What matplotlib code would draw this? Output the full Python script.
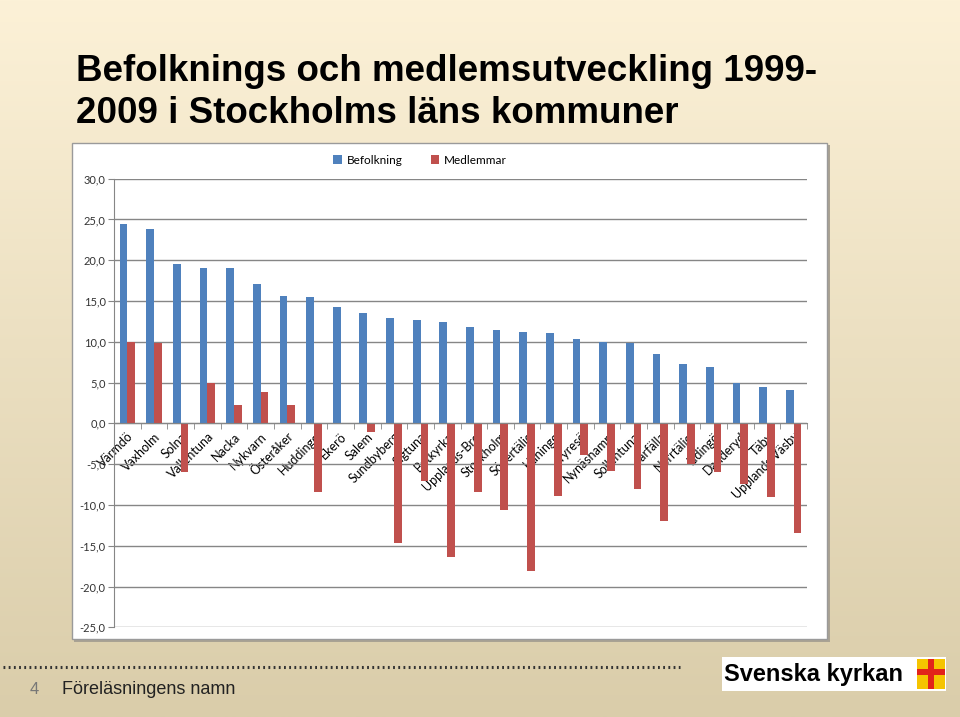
import numpy as np
import matplotlib
matplotlib.use("Agg")
import matplotlib.pyplot as plt
from matplotlib.patches import Rectangle
from matplotlib.ticker import FixedLocator

# --- Data ---
kommuner = ["Värmdö", "Vaxholm", "Solna", "Vallentuna", "Nacka", "Nykvarn",
            "Österåker", "Huddinge", "Ekerö", "Salem", "Sundbyberg", "Sigtuna",
            "Botkyrka", "Upplands-Bro", "Stockholm", "Södertälje", "Haninge",
            "Tyresö", "Nynäshamn", "Sollentuna", "Järfälla", "Norrtälje",
            "Lidingö", "Danderyd", "Täby", "Upplands Väsby"]
befolkning = [24.5, 23.8, 19.5, 19.1, 19.0, 17.1, 15.6, 15.5, 14.3, 13.5,
              12.9, 12.7, 12.4, 11.8, 11.5, 11.2, 11.1, 10.4, 10.0, 9.9,
              8.5, 7.3, 6.9, 5.0, 4.5, 4.1]
medlemmar = [10.0, 9.9, -6.0, 4.9, 2.3, 3.8, 2.2, -8.4, 0.1, -1.0,
             -14.7, -7.1, -16.4, -8.4, -10.6, -18.1, -8.9, -3.9, -5.8, -8.0,
             -12.0, -5.0, -6.0, -7.4, -9.0, -13.4]
series_names = ["Befolkning", "Medlemmar"]
y_ticks = [-25, -20, -15, -10, -5, 0, 5, 10, 15, 20, 25, 30]

blue = "#4F81BD"
red = "#C0504D"
grid_grey = "#868686"

W, H = 960, 717
fig = plt.figure(figsize=(W / 100, H / 100), dpi=100)

# --- slide background (vertical cream -> tan gradient) ---
bg = fig.add_axes([0, 0, 1, 1])
top_c = np.array([252, 241, 215]) / 255
bot_c = np.array([218, 205, 170]) / 255
t = np.linspace(0, 1, 256)[:, None]
grad = top_c[None, :] * (1 - t) + bot_c[None, :] * t
bg.imshow(grad[:, None, :], aspect="auto", extent=[0, W, H, 0])
bg.set_xlim(0, W)
bg.set_ylim(H, 0)
bg.axis("off")

# chart box with a little shadow
bg.add_patch(Rectangle((74, 145), 756, 497, facecolor="#A9A293", edgecolor="none"))
bg.add_patch(Rectangle((72, 143), 755, 496, facecolor="white", edgecolor="#9A9A9A", lw=1))

# title
bg.text(76, 81, "Befolknings och medlemsutveckling 1999-", fontsize=26.5,
        fontweight="bold", family="Liberation Sans", va="baseline", ha="left")
bg.text(76, 123, "2009 i Stockholms läns kommuner", fontsize=26.5,
        fontweight="bold", family="Liberation Sans", va="baseline", ha="left")

# footer
bg.plot([3, 680], [667, 667], color="#333333", lw=2.2, ls=(0, (0.6, 1.1)),
        solid_capstyle="butt")
bg.text(30, 690, "4", fontsize=12, color="#777777", family="Liberation Sans",
        va="center", ha="left")
bg.text(62, 690, "Föreläsningens namn", fontsize=13, color="#222222",
        family="Liberation Sans", va="center", ha="left")

# logo
bg.add_patch(Rectangle((722, 657), 224, 34, facecolor="white", edgecolor="none"))
bg.text(724, 675, "Svenska kyrkan", fontsize=17, fontweight="bold",
        family="Liberation Sans", va="center", ha="left", color="black")
bg.add_patch(Rectangle((917, 659), 28, 30, facecolor="#F5C400", edgecolor="none"))
bg.add_patch(Rectangle((928, 659), 6, 30, facecolor="#E2231A", edgecolor="none"))
bg.add_patch(Rectangle((917, 669), 28, 6, facecolor="#E2231A", edgecolor="none"))

# --- chart ---
ax = fig.add_axes([114 / W, 1 - 627.3 / H, 693 / W, 448.6 / H])
ax.set_facecolor("none")

x = np.arange(len(kommuner))
w = 0.29
ax.bar(x - w / 2, befolkning, w, color=blue, label=series_names[0], zorder=3)
ax.bar(x + w / 2, medlemmar, w, color=red, label=series_names[1], zorder=3)

ax.set_xlim(-0.5, len(kommuner) - 0.5)
ax.set_ylim(-25, 30)
ax.set_yticks(y_ticks)
ax.set_yticklabels([f"{v:.1f}".replace(".", ",") for v in y_ticks],
                   family="Lato", fontsize=8, color="#333333")
ax.yaxis.grid(True, color=grid_grey, lw=1)
ax.set_axisbelow(True)
ax.tick_params(axis="y", length=4, color=grid_grey, pad=2)

for s in ["top", "right"]:
    ax.spines[s].set_visible(False)
ax.spines["left"].set_color(grid_grey)
ax.spines["bottom"].set_color(grid_grey)
ax.spines["bottom"].set_position(("data", 0))
ax.spines["bottom"].set_zorder(4)

ax.set_xticks(x)
ax.set_xticklabels(kommuner, rotation=45, ha="right", rotation_mode="anchor",
                   family="Lato", fontsize=9, color="black")
ax.tick_params(axis="x", which="major", length=0, pad=5)
ax.xaxis.set_minor_locator(FixedLocator(np.arange(-0.5, len(kommuner), 1)))
ax.tick_params(axis="x", which="minor", length=4, color=grid_grey)

ax.legend(loc="center", bbox_to_anchor=(420 / W, 1 - 160 / H),
          bbox_transform=fig.transFigure, ncol=2, frameon=False,
          prop={"family": "Lato", "size": 8.5}, handlelength=0.7,
          handleheight=0.7, handletextpad=0.4, columnspacing=2.4)

fig.savefig("out.png", dpi=100)
